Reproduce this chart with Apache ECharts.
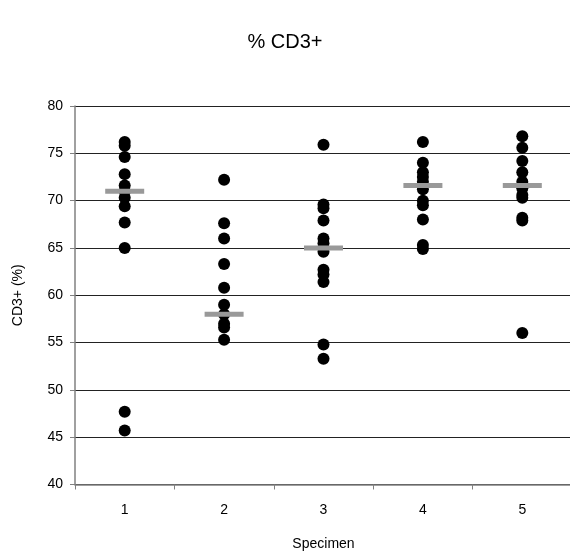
<!DOCTYPE html>
<html>
<head>
<meta charset="utf-8">
<script src="https://cdn.jsdelivr.net/npm/echarts@6/dist/echarts.min.js"></script>
<style>html,body{margin:0;padding:0;background:#fff;}#c{width:570px;height:554px;}</style>
</head>
<body>
<div id="c"></div>
<script>
var categories = ['1', '2', '3', '4', '5'];
var specimen1 = [76.2, 75.8, 74.6, 72.8, 71.6, 71.0, 70.3, 69.4, 67.7, 65.0, 47.7, 45.7];
var specimen2 = [72.2, 67.6, 66.0, 63.3, 60.8, 59.0, 58.0, 57.0, 56.6, 55.3];
var specimen3 = [75.9, 69.6, 69.2, 67.9, 66.0, 65.5, 64.6, 62.7, 62.2, 61.4, 54.8, 53.3];
var specimen4 = [76.2, 74.0, 73.0, 72.5, 72.0, 71.2, 70.0, 69.5, 68.0, 65.3, 64.9];
var specimen5 = [76.8, 75.6, 74.2, 73.0, 72.0, 71.3, 70.6, 70.3, 68.2, 67.9, 56.0];
var medians = [71.0, 58.0, 65.0, 71.6, 71.6];
var yTicks = [40, 45, 50, 55, 60, 65, 70, 75, 80];

var groups = [specimen1, specimen2, specimen3, specimen4, specimen5];
var points = [];
groups.forEach(function (vals, i) {
  vals.forEach(function (v) { points.push([categories[i], v]); });
});
var medianPts = medians.map(function (m, i) { return [categories[i], m]; });

var chart = echarts.init(document.getElementById('c'), null, {renderer: 'canvas'});
var font = 'Liberation Sans, Arial, sans-serif';
chart.setOption({
  animation: false,
  backgroundColor: '#fff',
  title: {
    text: '% CD3+',
    left: 'center',
    top: 27,
    textStyle: {fontFamily: font, fontSize: 20, fontWeight: 'normal', color: '#000'}
  },
  grid: {left: 75, top: 106, width: 497, height: 378.5, containLabel: false, outerBoundsMode: 'none'},
  xAxis: {
    type: 'category',
    data: categories,
    boundaryGap: true,
    name: 'Specimen',
    nameLocation: 'middle',
    nameGap: 53,
    nameTextStyle: {fontFamily: font, fontSize: 14, color: '#000'},
    axisLine: {lineStyle: {color: '#808080', width: 1.5}},
    axisTick: {show: true, inside: false, length: 5, lineStyle: {color: '#808080'}},
    axisLabel: {fontFamily: font, fontSize: 14, color: '#000', margin: 19},
    splitLine: {show: false}
  },
  yAxis: {
    type: 'value',
    min: yTicks[0],
    max: yTicks[yTicks.length - 1],
    interval: 5,
    name: 'CD3+ (%)',
    nameLocation: 'middle',
    nameGap: 50,
    nameRotate: 90,
    nameTextStyle: {fontFamily: font, fontSize: 14, color: '#000'},
    axisLine: {show: true, lineStyle: {color: '#808080', width: 1.5}},
    axisTick: {show: true, inside: false, length: 5, lineStyle: {color: '#808080'}},
    axisLabel: {fontFamily: font, fontSize: 14, color: '#000', margin: 12},
    splitLine: {show: true, lineStyle: {color: '#222', width: 1}}
  },
  series: [
    {
      type: 'scatter',
      data: points,
      symbol: 'circle',
      symbolSize: 12,
      itemStyle: {color: '#000', opacity: 1},
      z: 2
    },
    {
      type: 'scatter',
      data: medianPts,
      symbol: 'rect',
      symbolSize: [39, 5],
      itemStyle: {color: '#999999', opacity: 1},
      z: 3
    }
  ]
});
</script>
</body>
</html>
